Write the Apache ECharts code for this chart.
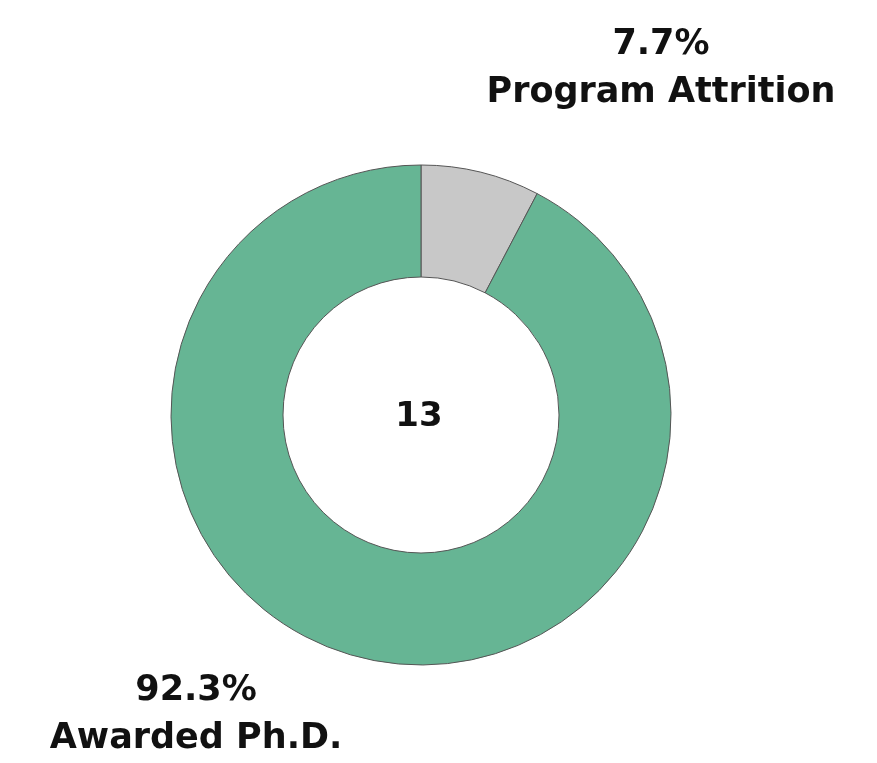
<!DOCTYPE html>
<html>
<head>
<meta charset="utf-8">
<style>
html,body{margin:0;padding:0;background:#fff;}
#c{width:877px;height:763px;}
</style>
<script src="https://cdn.jsdelivr.net/npm/echarts@6/dist/echarts.min.js"></script>
</head>
<body>
<div id="c"></div>
<script>
var categories = ['Program Attrition', 'Awarded Ph.D.'];
var values = [1, 12];
var colors = ['#c8c8c8', '#66b594'];

var total = values.reduce(function(a,b){return a+b;},0);
var labelPos = [[661, 69], [196, 715]];
var chart = echarts.init(document.getElementById('c'), null, {renderer:'canvas'});
chart.setOption({
  animation: false,
  graphic: [{
    type: 'text',
    style: { text: String(total), x: 419, y: 417, align: 'center', verticalAlign: 'middle',
      font: 'bold 34px "DejaVu Sans", Verdana, sans-serif', fill: '#111' }
  }],
  series: [{
    type: 'pie',
    center: [421, 415],
    radius: [138, 250],
    startAngle: 90,
    clockwise: true,
    data: categories.map(function(n,i){ return {name:n, value:values[i], itemStyle:{color:colors[i]}}; }),
    itemStyle: { borderColor: '#555', borderWidth: 1 },
    label: {
      show: true,
      overflow: 'none',
      formatter: function(p){ return (p.value/total*100).toFixed(1) + '%\n' + p.name; },
      fontFamily: '"DejaVu Sans", Verdana, sans-serif',
      fontWeight: 'bold', fontSize: 35, lineHeight: 48, color: '#111', align: 'center'
    },
    labelLine: { show: false },
    labelLayout: function(p){
      var pos = labelPos[p.dataIndex];
      return { x: pos[0], y: pos[1], align: 'center', verticalAlign: 'middle' };
    },
    emphasis: { disabled: true }
  }]
});
</script>
</body>
</html>
